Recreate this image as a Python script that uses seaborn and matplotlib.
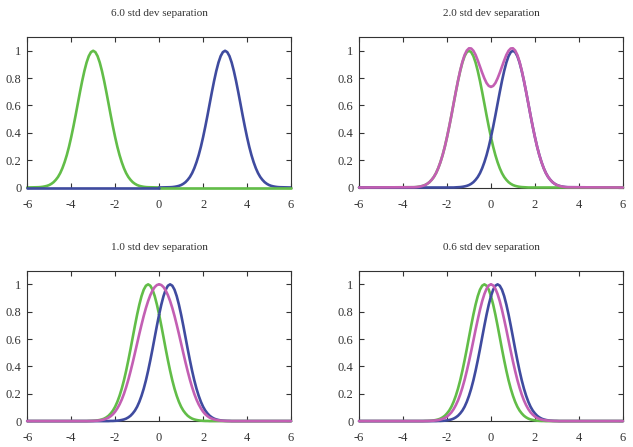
import pandas as pd
import matplotlib
matplotlib.use("Agg")
import matplotlib.pyplot as plt
import seaborn as sns

# Titres et graduations
TITLES = ["6.0 std dev separation", "2.0 std dev separation",
          "1.0 std dev separation", "0.6 std dev separation"]
X_TICKS = [-6, -4, -2, 0, 2, 4, 6]
X_TICK_LABELS = ["-6", "-4", "-2", "0", "2", "4", "6"]
Y_TICKS = [0, 0.2, 0.4, 0.6, 0.8, 1.0]
Y_TICK_LABELS = ["0", "0.2", "0.4", "0.6", "0.8", "1"]

GREEN = "#62bd48"
BLUE = "#3f4b9f"
MAGENTA = "#c35fb3"

# Panneau 1 (6.0) : deux bosses separees
P1_GREEN_X = [-6.0,
              -5.5, -5.4, -5.3, -5.2, -5.1, -5.0, -4.9, -4.8, -4.7, -4.6,
              -4.5, -4.4, -4.3, -4.2, -4.1, -4.0, -3.9, -3.8, -3.7, -3.6,
              -3.5, -3.4, -3.3, -3.2, -3.1, -3.0, -2.9, -2.8, -2.7, -2.6,
              -2.5, -2.4, -2.3, -2.2, -2.1, -2.0, -1.9, -1.8, -1.7, -1.6,
              -1.5, -1.4, -1.3, -1.2, -1.1, -1.0, -0.9, -0.8, -0.7, -0.6,
              -0.5, 0.0, 6.0]
P1_GREEN_Y = [0,
              .002, .003, .005, .008, .012, .018, .027, .039, .056, .077,
              .105, .141, .185, .237, .298, .368, .445, .527, .613, .698,
              .779, .852, .914, .961, .99, 1.0, .99, .961, .914, .852,
              .779, .698, .613, .527, .445, .368, .298, .237, .185, .141,
              .105, .077, .056, .039, .027, .018, .012, .008, .005, .003,
              .002, 0, 0]
P1_BLUE_X = [-6.0, 0.0,
             0.5, 0.6, 0.7, 0.8, 0.9, 1.0, 1.1, 1.2, 1.3, 1.4,
             1.5, 1.6, 1.7, 1.8, 1.9, 2.0, 2.1, 2.2, 2.3, 2.4,
             2.5, 2.6, 2.7, 2.8, 2.9, 3.0, 3.1, 3.2, 3.3, 3.4,
             3.5, 3.6, 3.7, 3.8, 3.9, 4.0, 4.1, 4.2, 4.3, 4.4,
             4.5, 4.6, 4.7, 4.8, 4.9, 5.0, 5.1, 5.2, 5.3, 5.4,
             5.5, 6.0]
P1_BLUE_Y = [0, 0,
             .002, .003, .005, .008, .012, .018, .027, .039, .056, .077,
             .105, .141, .185, .237, .298, .368, .445, .527, .613, .698,
             .779, .852, .914, .961, .99, 1.0, .99, .961, .914, .852,
             .779, .698, .613, .527, .445, .368, .298, .237, .185, .141,
             .105, .077, .056, .039, .027, .018, .012, .008, .005, .003,
             .002, 0]

# Grille commune des panneaux 2 a 4
X_MID = [-6.0,
         -3.5, -3.4, -3.3, -3.2, -3.1, -3.0, -2.9, -2.8, -2.7, -2.6,
         -2.5, -2.4, -2.3, -2.2, -2.1, -2.0, -1.9, -1.8, -1.7, -1.6,
         -1.5, -1.4, -1.3, -1.2, -1.1, -1.0, -0.9, -0.8, -0.7, -0.6,
         -0.5, -0.4, -0.3, -0.2, -0.1, 0.0, 0.1, 0.2, 0.3, 0.4,
         0.5, 0.6, 0.7, 0.8, 0.9, 1.0, 1.1, 1.2, 1.3, 1.4,
         1.5, 1.6, 1.7, 1.8, 1.9, 2.0, 2.1, 2.2, 2.3, 2.4,
         2.5, 2.6, 2.7, 2.8, 2.9, 3.0, 3.1, 3.2, 3.3, 3.4,
         3.5, 6.0]

# Panneau 2 (2.0)
P2_GREEN = [0,
            .002, .003, .005, .008, .012, .018, .027, .039, .056, .077,
            .105, .141, .185, .237, .298, .368, .445, .527, .613, .698,
            .779, .852, .914, .961, .99, 1.0, .99, .961, .914, .852,
            .779, .698, .613, .527, .445, .368, .298, .237, .185, .141,
            .105, .077, .056, .039, .027, .018, .012, .008, .005, .003,
            .002, .001, 0, 0, 0, 0, 0, 0, 0, 0,
            0, 0, 0, 0, 0, 0, 0, 0, 0, 0,
            0, 0]
P2_BLUE = [0,
           0, 0, 0, 0, 0, 0, 0, 0, 0, 0,
           0, 0, 0, 0, 0, 0, 0, 0, 0, .001,
           .002, .003, .005, .008, .012, .018, .027, .039, .056, .077,
           .105, .141, .185, .237, .298, .368, .445, .527, .613, .698,
           .779, .852, .914, .961, .99, 1.0, .99, .961, .914, .852,
           .779, .698, .613, .527, .445, .368, .298, .237, .185, .141,
           .105, .077, .056, .039, .027, .018, .012, .008, .005, .003,
           .002, 0]
P2_SUM = [0,
          .002, .003, .005, .008, .012, .018, .027, .039, .056, .077,
          .105, .141, .185, .237, .298, .368, .445, .527, .614, .699,
          .781, .855, .919, .969, 1.002, 1.018, 1.017, 1.0, .970, .929,
          .884, .839, .798, .764, .743, .736, .743, .764, .798, .839,
          .884, .929, .970, 1.0, 1.017, 1.018, 1.002, .969, .919, .855,
          .781, .699, .614, .527, .445, .368, .298, .237, .185, .141,
          .105, .077, .056, .039, .027, .018, .012, .008, .005, .003,
          .002, 0]

# Panneau 3 (1.0)
P3_GREEN = [0,
            0, 0, 0, .001, .001, .002, .003, .005, .008, .012,
            .018, .027, .039, .056, .077, .105, .141, .185, .237, .298,
            .368, .445, .527, .613, .698, .779, .852, .914, .961, .99,
            1.0, .99, .961, .914, .852, .779, .698, .613, .527, .445,
            .368, .298, .237, .185, .141, .105, .077, .056, .039, .027,
            .018, .012, .008, .005, .003, .002, .001, .001, 0, 0,
            0, 0, 0, 0, 0, 0, 0, 0, 0, 0,
            0, 0]
P3_BLUE = [0,
           0, 0, 0, 0, 0, 0, 0, 0, 0, 0,
           0, 0, 0, .001, .001, .002, .003, .005, .008, .012,
           .018, .027, .039, .056, .077, .105, .141, .185, .237, .298,
           .368, .445, .527, .613, .698, .779, .852, .914, .961, .99,
           1.0, .99, .961, .914, .852, .779, .698, .613, .527, .445,
           .368, .298, .237, .185, .141, .105, .077, .056, .039, .027,
           .018, .012, .008, .005, .003, .002, .001, .001, 0, 0,
           0, 0]
P3_SUM = [0,
          0, 0, 0, 0, .001, .001, .002, .003, .005, .008,
          .012, .018, .025, .036, .050, .069, .093, .122, .157, .199,
          .248, .303, .364, .429, .498, .568, .638, .705, .769, .827,
          .878, .921, .955, .980, .995, 1.0, .995, .980, .955, .921,
          .878, .827, .769, .705, .638, .568, .498, .429, .364, .303,
          .248, .199, .157, .122, .093, .069, .050, .036, .025, .018,
          .012, .008, .005, .003, .002, .001, .001, 0, 0, 0,
          0, 0]

# Panneau 4 (0.6)
P4_GREEN = [0,
            0, 0, 0, 0, 0, .001, .001, .002, .003, .005,
            .008, .012, .018, .027, .039, .056, .077, .105, .141, .185,
            .237, .298, .368, .445, .527, .613, .698, .779, .852, .914,
            .961, .99, 1.0, .99, .961, .914, .852, .779, .698, .613,
            .527, .445, .368, .298, .237, .185, .141, .105, .077, .056,
            .039, .027, .018, .012, .008, .005, .003, .002, .001, .001,
            0, 0, 0, 0, 0, 0, 0, 0, 0, 0,
            0, 0]
P4_BLUE = [0,
           0, 0, 0, 0, 0, 0, 0, 0, 0, 0,
           0, .001, .001, .002, .003, .005, .008, .012, .018, .027,
           .039, .056, .077, .105, .141, .185, .237, .298, .368, .445,
           .527, .613, .698, .779, .852, .914, .961, .99, 1.0, .99,
           .961, .914, .852, .779, .698, .613, .527, .445, .368, .298,
           .237, .185, .141, .105, .077, .056, .039, .027, .018, .012,
           .008, .005, .003, .002, .001, .001, 0, 0, 0, 0,
           0, 0]
P4_SUM = [0,
          0, 0, 0, 0, 0, 0, .001, .001, .002, .003,
          .005, .007, .011, .016, .023, .033, .047, .064, .087, .116,
          .151, .194, .244, .301, .366, .436, .511, .589, .668, .743,
          .814, .877, .929, .968, .992, 1.0, .992, .968, .929, .877,
          .814, .743, .668, .589, .511, .436, .366, .301, .244, .194,
          .151, .116, .087, .064, .047, .033, .023, .016, .011, .007,
          .005, .003, .002, .001, .001, 0, 0, 0, 0, 0,
          0, 0]

PANELS = [
    [(P1_GREEN_X, P1_GREEN_Y, GREEN, 2, 3), (P1_BLUE_X, P1_BLUE_Y, BLUE, 3, 2)],
    [(X_MID, P2_GREEN, GREEN, 2, 3), (X_MID, P2_BLUE, BLUE, 3, 2), (X_MID, P2_SUM, MAGENTA, 4, 4)],
    [(X_MID, P3_GREEN, GREEN, 2, 3), (X_MID, P3_BLUE, BLUE, 3, 2), (X_MID, P3_SUM, MAGENTA, 4, 4)],
    [(X_MID, P4_GREEN, GREEN, 2, 3), (X_MID, P4_BLUE, BLUE, 3, 2), (X_MID, P4_SUM, MAGENTA, 4, 4)],
]

sns.set_theme(style="ticks")
plt.rcParams["font.family"] = ["Liberation Serif", "DejaVu Serif"]
plt.rcParams["axes.unicode_minus"] = False
plt.rcParams["lines.solid_capstyle"] = "round"

INK = "#333333"
LW = 1.9

fig, axes = plt.subplots(2, 2, figsize=(6.33, 4.47), dpi=100)
fig.subplots_adjust(left=0.043, right=0.984, bottom=0.058, top=0.917,
                    wspace=0.258, hspace=0.553)

for ax, title, curves in zip(axes.flat, TITLES, PANELS):
    for x, y, color, z_left, z_right in curves:
        df = pd.DataFrame({"x": x, "y": y})
        # moitie gauche / droite avec un ordre d'empilement different
        for part, z in ((df[df.x <= 0], z_left), (df[df.x >= 0], z_right)):
            sns.lineplot(data=part, x="x", y="y", ax=ax, color=color, lw=LW,
                         estimator=None, sort=False, zorder=z, clip_on=False)
    ax.set_xlim(-6, 6)
    ax.set_ylim(0, 1.1)
    ax.set_xticks(X_TICKS, X_TICK_LABELS)
    ax.set_yticks(Y_TICKS, Y_TICK_LABELS)
    ax.tick_params(direction="in", top=True, right=True, length=3.5, width=0.8,
                   colors=INK, labelsize=9)
    ax.tick_params(axis="x", pad=8)
    ax.tick_params(axis="y", pad=4)
    for s in ax.spines.values():
        s.set_visible(True)
        s.set_color(INK)
        s.set_linewidth(0.8)
    ax.set_xlabel("")
    ax.set_ylabel("")
    ax.set_title(title, fontsize=8, pad=15, color=INK)

plt.savefig("out.png", dpi=100)
plt.close()
